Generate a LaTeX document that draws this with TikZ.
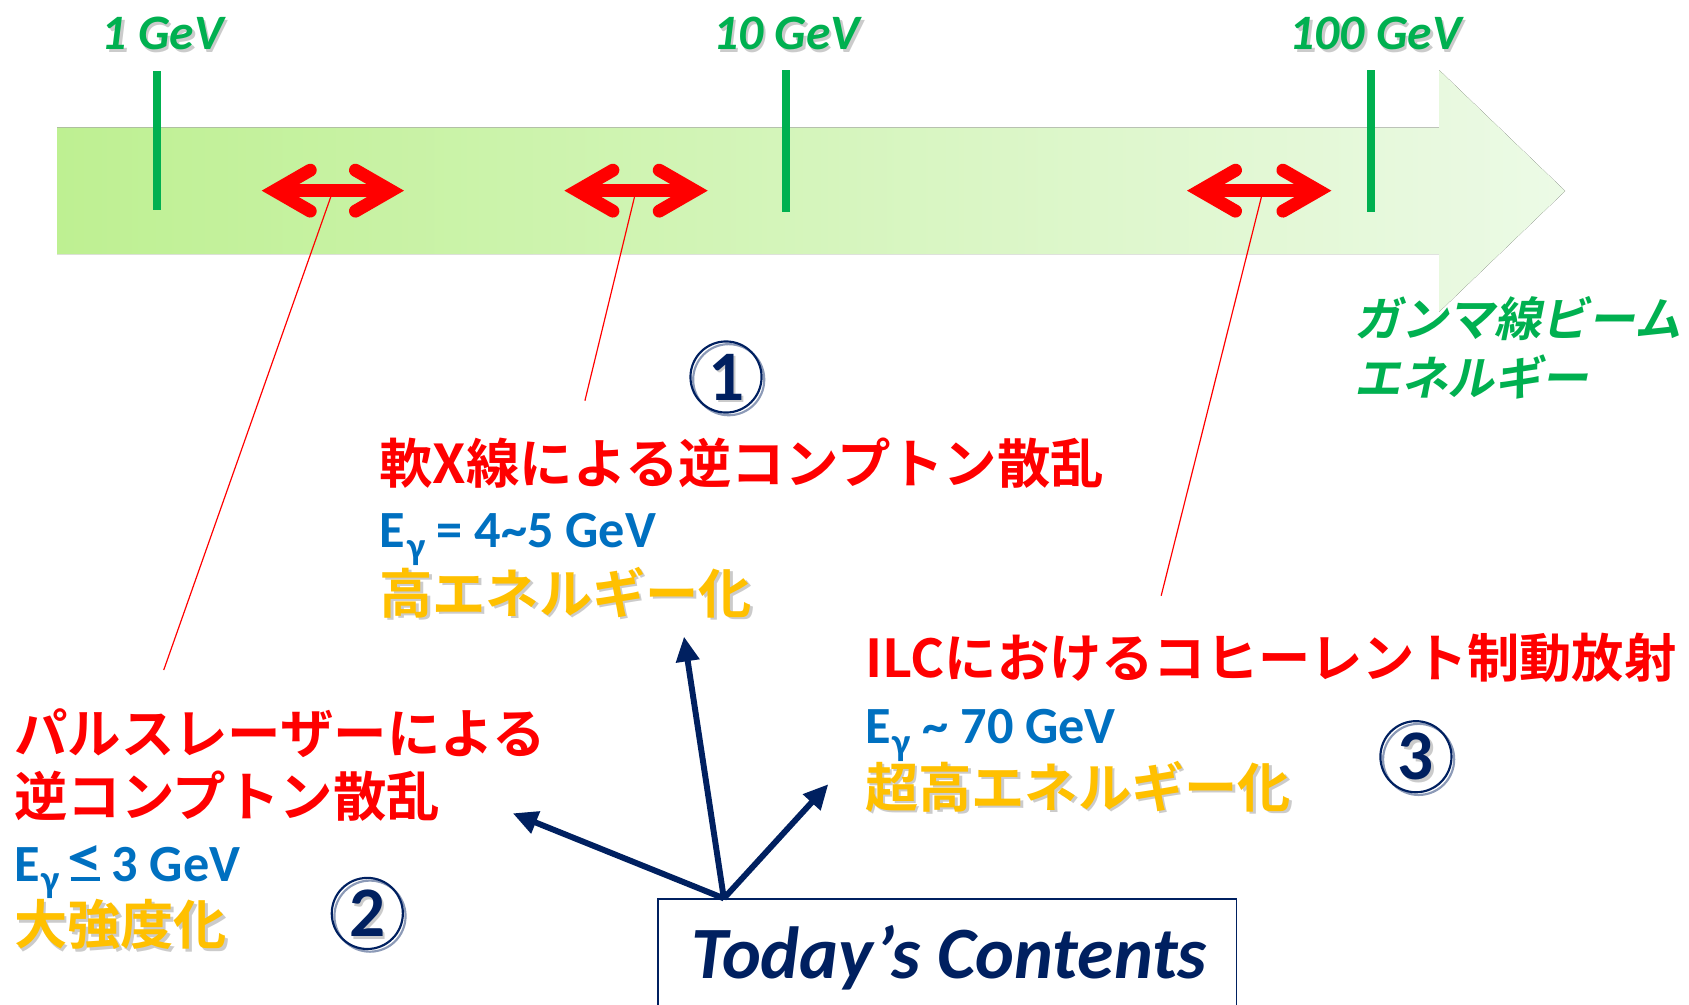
\documentclass[tikz,border=0pt]{standalone}
\usepackage{fontspec}
\setmainfont{Carlito}
\newfontfamily\jp{Noto Sans CJK JP}[BoldFont={* Bold}]
\newfontfamily\jpsl{Noto Sans CJK JP}[BoldFont={* Bold},FakeSlant=0.2]
\usetikzlibrary{arrows.meta,calc}
\definecolor{tgreen}{RGB}{0,176,80}
\definecolor{tred}{RGB}{255,0,0}
\definecolor{tblue}{RGB}{0,112,192}
\definecolor{tgold}{RGB}{255,192,0}
\definecolor{tnavy}{RGB}{0,32,96}
\definecolor{barL}{RGB}{190,240,146}
\definecolor{barR}{RGB}{236,250,230}
\newcommand\mysnode[4]{%
  \node[#1,text=black!45,opacity=0.45,xshift=2.5pt,yshift=-2.5pt] at #2 {#3};
  \node[#1] (#4) at #2 {#3};}
\newcommand\mydbl[3]{%
  \coordinate (#3l) at (#1,177);
  \coordinate (#3r) at (#2,177);
  \draw[redarr,line cap=butt] ($(#3l)+(12,0)$) -- ($(#3r)+(-12,0)$);
  \draw[redarr] ($(#3l)+(45,-19)$) -- ($(#3l)+(12,0)$) -- ($(#3l)+(45,19)$);
  \draw[redarr] ($(#3r)+(-45,-19)$) -- ($(#3r)+(-12,0)$) -- ($(#3r)+(-45,19)$);}
\newcommand\myEg{E\hspace{2pt}\raisebox{-11pt}{\fontsize{36}{36}\selectfont γ}}
\newcommand\myleq{\mbox{\ooalign{\hidewidth\raisebox{4pt}{\scalebox{1.35}[1.1]{<}}\hidewidth\cr\rule{27pt}{4pt}\cr}}}
\begin{document}
\begin{tikzpicture}[x=1pt,y=-1pt,
  tickline/.style={draw=tgreen,line width=7.5pt},
  gevlab/.style={text=tgreen,font=\bfseries\itshape\fontsize{46}{52}\selectfont,inner sep=0,anchor=base},
  redarr/.style={draw=tred,line width=12pt,line cap=round,line join=miter},
  leader/.style={draw=tred,line width=1.1pt},
  redtxt/.style={text=tred,font=\jp\bfseries\fontsize{49.6}{58}\selectfont,inner sep=0,anchor=west},
  bluetxt/.style={text=tblue,font=\bfseries\fontsize{48.5}{56}\selectfont,inner sep=0,anchor=base west},
  goldtxt/.style={text=tgold,font=\jp\bfseries\fontsize{49.4}{58}\selectfont,inner sep=0,anchor=west},
  greentxt/.style={text=tgreen,font=\jpsl\bfseries\fontsize{43.5}{52}\selectfont,inner sep=0,anchor=west},
  numcirc/.style={circle,draw=tnavy,line width=2pt,minimum size=66pt,inner sep=0,text=tnavy,font=\bfseries\fontsize{66}{66}\selectfont},
  navyarr/.style={draw=tnavy,line width=5.5pt,-{Triangle[length=23pt,width=21pt]}}]
\useasboundingbox (0,0) rectangle (1568,933);
% energy band arrow
\fill[left color=barL,right color=barR] (53,118.5) -- (1336,118.5) -- (1336,65) -- (1453,177.3) -- (1336,289.6) -- (1336,236) -- (53,236) -- cycle;
% ticks
\draw[tickline] (146,66) -- (146,194.5);
\draw[tickline] (730,65) -- (730,196.5);
\draw[tickline] (1273,65) -- (1273,196.5);
% tick labels
\mysnode{gevlab}{(151,46)}{1 GeV}{g1}
\mysnode{gevlab}{(730,46)}{10 GeV}{g10}
\mysnode{gevlab}{(1277,46)}{100 GeV}{g100}
% red double arrows
\mydbl{243}{375}{ra}
\mydbl{524}{657}{rb}
\mydbl{1102}{1236}{rc}
% leader lines
\coordinate (la) at (307,183);
\coordinate (lb) at (589,183);
\coordinate (lc) at (1171,183);
\coordinate (ea) at (152,622);
\coordinate (eb) at (543,372);
\coordinate (ec) at (1078,553);
\draw[leader] (la) -- (ea);
\draw[leader] (lb) -- (eb);
\draw[leader] (lc) -- (ec);
% axis title
\node[greentxt] (gt1) at (1257,296) {ガンマ線ビーム};
\node[greentxt] (gt2) at (1257,350) {エネルギー};
% circled numbers
\mysnode{numcirc}{(674,350)}{1}{n1}
\mysnode{numcirc}{(341,848)}{2}{n2}
\mysnode{numcirc}{(1314.5,702.5)}{3}{n3}
% block 1
\node[redtxt] (r1) at (352,430) {軟X線による逆コンプトン散乱};
\node[bluetxt] (b1) at (352,508) {\myEg\ = 4\textasciitilde5 GeV};
\mysnode{goldtxt}{(352,550)}{高エネルギー化}{o1}
% block 3
\node[redtxt,font=\jp\bfseries\fontsize{48.5}{58}\selectfont] (r3) at (803,611) {ILCにおけるコヒーレント制動放射};
\node[bluetxt] (b3) at (803,690) {\myEg\ \textasciitilde\ 70 GeV};
\mysnode{goldtxt}{(803,730)}{超高エネルギー化}{o3}
% block 2
\node[redtxt] (r2a) at (13,681) {パルスレーザーによる};
\node[redtxt] (r2b) at (13,739) {逆コンプトン散乱};
\node[bluetxt] (b2) at (13,818) {\myEg\hspace{10pt}\myleq\hspace{11pt}3 GeV};
\mysnode{goldtxt}{(13,858)}{大強度化}{o2}
% contents box
\node[draw=tnavy,line width=1.6pt,minimum width=537pt,minimum height=140pt,anchor=north west,inner sep=0] (box) at (610,834) {};
\node[text=tnavy,font=\bfseries\itshape\fontsize{68.5}{70}\selectfont,inner sep=0,anchor=base] (title) at (881,908) {Today’s Contents};
% navy arrows
\coordinate (src) at ($(box.north west)+(62,0)$);
\coordinate (tl) at (476,755);
\coordinate (tu) at (635,591);
\coordinate (tr) at (769,728);
\draw[navyarr] (src) -- (tl);
\draw[navyarr] (src) -- (tu);
\draw[navyarr] (src) -- (tr);
\end{tikzpicture}
\end{document}
